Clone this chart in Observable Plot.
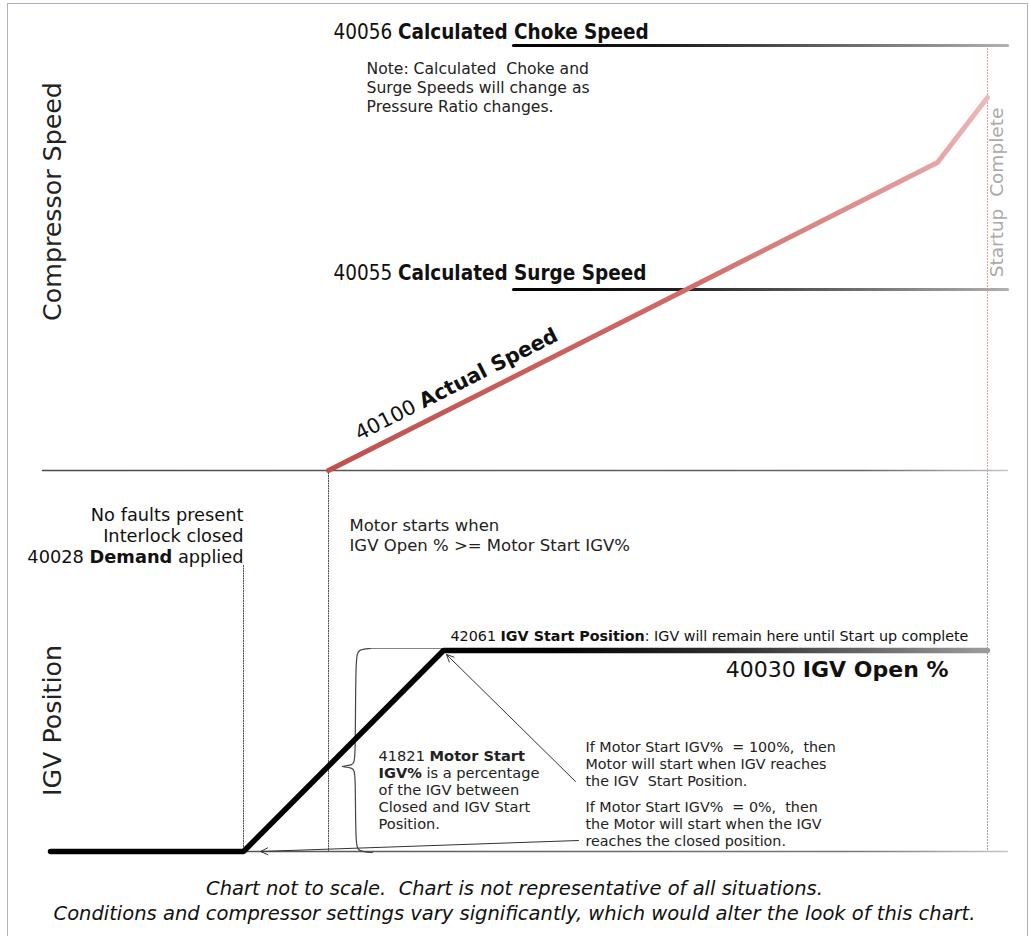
<!DOCTYPE html>
<html><head><meta charset="utf-8">
<script src="https://cdn.jsdelivr.net/npm/d3@7"></script>
<script src="https://cdn.jsdelivr.net/npm/@observablehq/plot@0.6"></script>
<style>
body{margin:0;background:#fff;}
#wrap{position:relative;width:1029px;height:936px;overflow:hidden;background:#fff;}
#frame{position:absolute;left:7px;top:3px;width:1021px;height:1000px;box-sizing:border-box;border:1.5px solid #aab4c0;pointer-events:none;}
#caption{font-family:'DejaVu Sans',sans-serif;font-style:italic;font-size:19.5px;line-height:25px;text-align:center;color:#111;padding-top:6px;}
#chart svg{display:block;}
</style></head>
<body><div id="wrap"><div id="chart"></div>
<div id="caption">Chart not to scale.&nbsp; Chart is not representative of all situations.<br>Conditions and compressor settings vary significantly, which would alter the look of this chart.</div>
<div id="frame"></div></div>
<script>
// ---- data (time t, level) ----
const speedBaseline = [{t:42, level:400},{t:1007, level:400}];
const actualSpeed = [{t:328, level:400},{t:937, level:708},{t:987, level:773}];
const surgeSpeed = [{t:513, level:581},{t:1007, level:581}];
const chokeSpeed = [{t:513, level:825},{t:1007, level:825}];
const igvOpen = [{t:50, level:19},{t:243, level:19},{t:443, level:220},{t:987, level:220}];
const igvClosed = [{t:243, level:19},{t:1007, level:19}];
const startupUpper = [{t:987, level:825},{t:987, level:400}];
const startupLower = [{t:987, level:400},{t:987, level:19}];
const demandMarker = [{t:243, level:305},{t:243, level:19}];
const motorMarker = [{t:328, level:400},{t:328, level:19}];
const braceTopGuide = [{t:368, level:222},{t:443, level:222}];
const brace = [{t:370,level:222},{t:358,level:221},{t:355,level:215},{t:355,level:110},{t:353,level:105},{t:336,level:104},{t:353,level:103},{t:355,level:98},{t:355,level:25},{t:358,level:19},{t:372,level:18}];
const arrows = [
  {t1:575, level1:89, t2:446, level2:216},
  {t1:578, level1:30, t2:260, level2:19}
];
const speedTitles = [
  {t:333, level:838, text:"40056 **Calculated Choke Speed**"},
  {t:333, level:597, text:"40055 **Calculated Surge Speed**"}
];
const noteText = [{t:366, level:784, text:"Note: Calculated  Choke and\nSurge Speeds will change as\nPressure Ratio changes."}];
const actualLabel = [{t:456, level:486, text:"40100 **Actual Speed**"}];
const axisTitles = [
  {t:52, level:669, text:"Compressor Speed"},
  {t:52, level:150, text:"IGV Position"}
];
const startupLabel = [{t:997, level:678, text:"Startup  Complete"}];
const demandText = [{t:243, level:335, text:"No faults present\nInterlock closed\n40028 **Demand** applied"}];
const motorText = [{t:349, level:336, text:"Motor starts when\nIGV Open % >= Motor Start IGV%"}];
const igvStartText = [{t:450, level:234, text:"42061 **IGV Start Position**: IGV will remain here until Start up complete"}];
const igvOpenText = [{t:948, level:201, text:"40030 **IGV Open %**"}];
const motorStartText = [{t:378, level:81, text:"41821 **Motor Start**\n**IGV%** is a percentage\nof the IGV between\nClosed and IGV Start\nPosition."}];
const ifTexts = [
  {t:585, level:107, text:"If Motor Start IGV%  = 100%,  then\nMotor will start when IGV reaches\nthe IGV  Start Position."},
  {t:585, level:47, text:"If Motor Start IGV%  = 0%,  then\nthe Motor will start when the IGV\nreaches the closed position."}
];

const TAHOMA = "'DejaVu Sans Condensed','Liberation Sans',sans-serif";
const VERDANA = "'DejaVu Sans',Verdana,sans-serif";
const W = 1029, H = 870;

const plot = Plot.plot({
  width: W, height: H, margin: 0,
  x: {domain: [0, W], axis: null},
  y: {domain: [0, H], axis: null},
  style: {background: "transparent", overflow: "visible"},
  marks: [
    Plot.line(startupUpper, {x:"t", y:"level", stroke:"#f09090", strokeWidth:1, strokeDasharray:"1,2"}),
    Plot.line(startupLower, {x:"t", y:"level", stroke:"#999", strokeWidth:1, strokeDasharray:"1,2"}),
    Plot.line(demandMarker, {x:"t", y:"level", stroke:"#444", strokeWidth:1, strokeDasharray:"1,1.5"}),
    Plot.line(motorMarker, {x:"t", y:"level", stroke:"#444", strokeWidth:1, strokeDasharray:"1,1.5"}),
    Plot.line(braceTopGuide, {x:"t", y:"level", stroke:"#777", strokeWidth:1, strokeDasharray:"1,1"}),
    Plot.line(speedBaseline, {x:"t", y:"level", stroke:"url(#gBase)", strokeWidth:1.6}),
    Plot.line(igvClosed, {x:"t", y:"level", stroke:"url(#gClosed)", strokeWidth:1.6}),
    Plot.line(surgeSpeed, {x:"t", y:"level", stroke:"url(#gSurge)", strokeWidth:3.2}),
    Plot.line(chokeSpeed, {x:"t", y:"level", stroke:"url(#gChoke)", strokeWidth:3.2}),
    Plot.line(actualSpeed, {x:"t", y:"level", stroke:"url(#gRed)", strokeWidth:5, strokeLinejoin:"round"}),
    Plot.line(brace, {x:"t", y:"level", stroke:"#444", strokeWidth:1.2, curve:"basis"}),
    Plot.arrow(arrows, {x1:"t1", y1:"level1", x2:"t2", y2:"level2", stroke:"#333", strokeWidth:1, headLength:12, headAngle:50, bend:0}),
    Plot.line(igvOpen, {x:"t", y:"level", stroke:"url(#gIgv)", strokeWidth:5.5, strokeLinejoin:"miter"}),
    Plot.text(speedTitles, {x:"t", y:"level", text:"text", textAnchor:"start", lineAnchor:"middle", fontFamily:TAHOMA, fontSize:20.5, fill:"#111"}),
    Plot.text(noteText, {x:"t", y:"level", text:"text", textAnchor:"start", lineAnchor:"middle", fontFamily:VERDANA, fontSize:15.6, lineHeight:1.22, fill:"#222"}),
    Plot.text(actualLabel, {x:"t", y:"level", text:"text", textAnchor:"middle", lineAnchor:"middle", rotate:-26.8, fontFamily:VERDANA, fontSize:20.5, fill:"#111"}),
    Plot.text(axisTitles, {x:"t", y:"level", text:"text", textAnchor:"middle", lineAnchor:"middle", rotate:-90, fontFamily:VERDANA, fontSize:25.3, fill:"#222"}),
    Plot.text(startupLabel, {x:"t", y:"level", text:"text", textAnchor:"middle", lineAnchor:"middle", rotate:-90, fontFamily:VERDANA, fontSize:18.5, fill:"#aaa"}),
    Plot.text(demandText, {x:"t", y:"level", text:"text", textAnchor:"end", lineAnchor:"middle", fontFamily:VERDANA, fontSize:17.8, lineHeight:1.18, fill:"#111"}),
    Plot.text(motorText, {x:"t", y:"level", text:"text", textAnchor:"start", lineAnchor:"middle", fontFamily:VERDANA, fontSize:16.5, lineHeight:1.21, fill:"#222"}),
    Plot.text(igvStartText, {x:"t", y:"level", text:"text", textAnchor:"start", lineAnchor:"middle", fontFamily:VERDANA, fontSize:14.3, fill:"#111"}),
    Plot.text(igvOpenText, {x:"t", y:"level", text:"text", textAnchor:"end", lineAnchor:"middle", fontFamily:VERDANA, fontSize:22, fill:"#111"}),
    Plot.text(motorStartText, {x:"t", y:"level", text:"text", textAnchor:"start", lineAnchor:"middle", fontFamily:VERDANA, fontSize:14.6, lineHeight:1.16, fill:"#222"}),
    Plot.text(ifTexts, {x:"t", y:"level", text:"text", textAnchor:"start", lineAnchor:"middle", fontFamily:VERDANA, fontSize:14.3, lineHeight:1.19, fill:"#222"})
  ]
});

// gradients in user space, positioned through the scales
const xs = plot.scale("x"), ys = plot.scale("y");
const NS = "http://www.w3.org/2000/svg";
const defs = document.createElementNS(NS, "defs");
function grad(id, series, stops) {
  const a = series[0], b = series[series.length - 1];
  const g = document.createElementNS(NS, "linearGradient");
  g.setAttribute("id", id);
  g.setAttribute("gradientUnits", "userSpaceOnUse");
  g.setAttribute("x1", xs.apply(a.t)); g.setAttribute("y1", ys.apply(a.level));
  g.setAttribute("x2", xs.apply(b.t)); g.setAttribute("y2", ys.apply(b.level));
  for (const [o, c] of stops) {
    const s = document.createElementNS(NS, "stop");
    s.setAttribute("offset", o); s.setAttribute("stop-color", c);
    g.appendChild(s);
  }
  defs.appendChild(g);
}
grad("gBase", speedBaseline, [[0,"#4a4a4a"],[0.85,"#666"],[1,"#c4c4c4"]]);
grad("gClosed", igvClosed, [[0,"#555"],[0.8,"#777"],[1,"#c4c4c4"]]);
grad("gSurge", surgeSpeed, [[0,"#000"],[0.3,"#1a1a1a"],[1,"#b0b0b0"]]);
grad("gChoke", chokeSpeed, [[0,"#000"],[0.3,"#1a1a1a"],[1,"#b0b0b0"]]);
grad("gRed", actualSpeed, [[0,"#c0504d"],[0.5,"#cf6865"],[0.85,"#e19a98"],[1,"#ebbaba"]]);
grad("gIgv", igvOpen, [[0,"#000"],[0.55,"#000"],[0.75,"#333"],[1,"#9c9c9c"]]);
plot.insertBefore(defs, plot.firstChild);

// **bold** markup -> tspans
plot.querySelectorAll("text, tspan").forEach(el => {
  if (el.children.length) return;
  const s = el.textContent;
  if (!s.includes("**")) return;
  el.textContent = "";
  s.split("**").forEach((part, i) => {
    if (!part) return;
    if (i % 2) {
      const t = document.createElementNS(NS, "tspan");
      t.setAttribute("font-weight", "bold");
      t.textContent = part;
      el.appendChild(t);
    } else el.appendChild(document.createTextNode(part));
  });
});
document.getElementById("chart").appendChild(plot);
</script>
</body></html>
